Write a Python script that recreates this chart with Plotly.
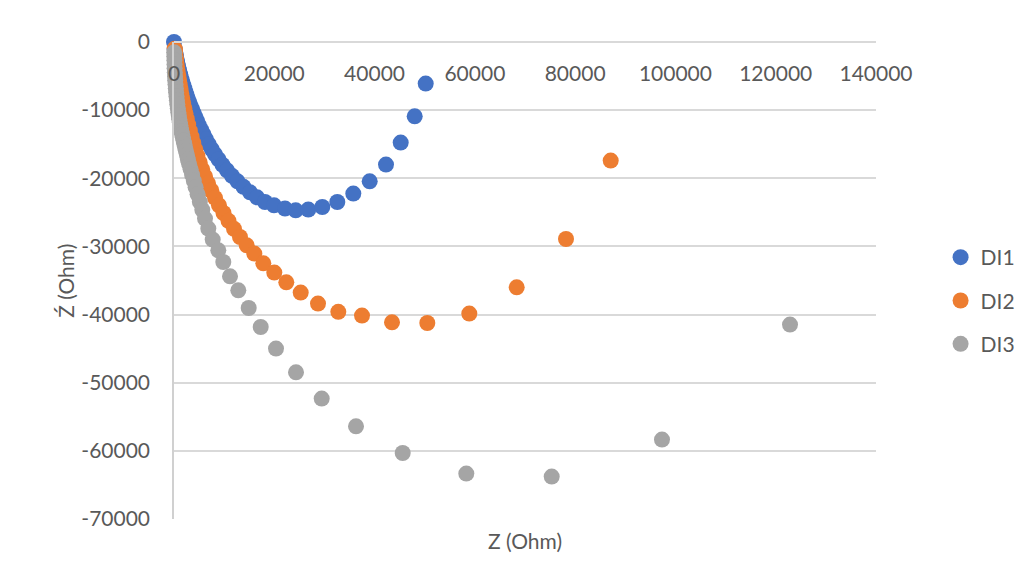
import plotly.graph_objects as go

# ---------------- data ----------------
di1_z = [0, 120, 160, 199, 239, 299, 359, 419, 499, 578, 658, 758, 857, 977, 1097, 1236, 1376,
         1535, 1695, 1874, 2074, 2273, 2493, 2732, 2991, 3270, 3569, 3888, 4227, 4586, 4985,
         5424, 5882, 6381, 6939, 7537, 8175, 8873, 9671, 10568, 11565, 12662, 13858, 15155,
         16550, 18145, 19943, 22137, 24271, 26783, 29575, 32567, 35758, 39028, 42279, 45211,
         48003, 50197]
di1_zi = [0, -998, -1174, -1365, -1570, -1790, -2025, -2275, -2539, -2818, -3111, -3419, -3742,
          -4080, -4432, -4799, -5180, -5577, -5987, -6413, -6853, -7308, -7778, -8262, -8776,
          -9289, -9832, -10390, -10977, -11564, -12224, -12885, -13545, -14279, -15013, -15746,
          -16480, -17214, -18021, -18828, -19635, -20442, -21250, -22056, -22790, -23480, -23964,
          -24449, -24698, -24595, -24214, -23480, -22247, -20442, -17992, -14763, -10903, -6105]

di2_z = [140, 179, 219, 279, 339, 399, 479, 558, 658, 758, 877, 997, 1137, 1296, 1456, 1635,
         1834, 2054, 2293, 2552, 2831, 3151, 3490, 3848, 4247, 4666, 5125, 5623, 6181, 6780,
         7438, 8175, 8973, 9870, 10867, 11964, 13160, 14499, 16014, 17809, 20003, 22396, 25268,
         28718, 32766, 37493, 43476, 50515, 58892, 68345, 78177, 87091]
di2_zi = [-983, -1262, -1570, -1908, -2275, -2671, -3096, -3551, -4036, -4549, -5092, -5665,
          -6266, -6897, -7558, -8247, -8966, -9715, -10493, -11300, -12136, -13002, -13897,
          -14807, -15746, -16700, -17683, -18681, -19709, -20736, -21792, -22864, -23964, -25094,
          -26239, -27413, -28616, -29834, -31052, -32476, -33841, -35264, -36776, -38390, -39593,
          -40151, -41134, -41237, -39857, -35998, -28910, -17405]

di3_z = [40, 60, 80, 100, 120, 160, 199, 239, 299, 359, 419, 499, 578, 658, 758, 857, 957,
         1057, 1157, 1256, 1376, 1496, 1615, 1755, 1894, 2054, 2213, 2393, 2592, 2772, 3031,
         3310, 3609, 3948, 4307, 4706, 5145, 5643, 6182, 6840, 7718, 8835, 9832, 11168, 12823,
         14897, 17290, 20342, 24330, 29456, 36296, 45610, 58293, 75325, 97320, 122850]
di3_zi = [-1512, -2099, -2686, -3273, -3860, -4447, -5034, -5620, -6208, -6794, -7381, -7969,
          -8555, -9143, -9730, -10317, -10830, -11344, -11784, -12224, -12665, -13105, -13545,
          -13985, -14455, -14954, -15482, -16040, -16627, -17258, -17947, -18681, -19488, -20369,
          -21323, -22350, -23451, -24625, -25916, -27384, -28998, -30568, -32285, -34384, -36438,
          -39036, -41824, -44994, -48472, -52331, -56396, -60314, -63337, -63780, -58350, -41470]

x_tick_vals = [0, 20000, 40000, 60000, 80000, 100000, 120000, 140000]
x_tick_text = ["0", "20000", "40000", "60000", "80000", "100000", "120000", "140000"]
y_tick_vals = [0, -10000, -20000, -30000, -40000, -50000, -60000, -70000]
y_tick_text = ["0", "-10000", "-20000", "-30000", "-40000", "-50000", "-60000", "-70000"]

series = [("DI1", di1_z, di1_zi, "#4472C4"),
          ("DI2", di2_z, di2_zi, "#ED7D31"),
          ("DI3", di3_z, di3_zi, "#A5A5A5")]

FONT = "Lato"
TXT = "#595959"

fig = go.Figure()
for name, xs, ys, col in series:
    fig.add_trace(go.Scatter(
        x=xs, y=ys, mode="markers", name=name, legendgroup=name,
        marker=dict(color=col, size=16, line=dict(width=0)),
        cliponaxis=False,
    ))

fig.update_layout(
    width=1019, height=579,
    margin=dict(l=174, r=143, t=42, b=60, autoexpand=False),
    paper_bgcolor="white", plot_bgcolor="white",
    font=dict(family=FONT, size=20, color=TXT),
    xaxis=dict(
        range=[0, 140000], tickvals=x_tick_vals, ticktext=x_tick_text,
        anchor="free", position=1, side="bottom", automargin=False,
        showgrid=False, zeroline=False,
        showline=True, linecolor="#d9d9d9", linewidth=1.5,
        ticks="outside", ticklen=13, tickcolor="rgba(0,0,0,0)",
        tickfont=dict(family=FONT, size=21, color=TXT),
    ),
    yaxis=dict(
        range=[-70000, 0], tickvals=y_tick_vals, ticktext=y_tick_text,
        showgrid=True, gridcolor="#d9d9d9", gridwidth=1.5, zeroline=False,
        showline=True, linecolor="#d0d0d0", linewidth=1.5, automargin=False,
        ticks="outside", ticklen=18, tickcolor="rgba(0,0,0,0)",
        tickfont=dict(family=FONT, size=21, color=TXT),
    ),
    legend=dict(
        x=1.092, xanchor="left", y=0.458, yanchor="middle",
        font=dict(family=FONT, size=21, color=TXT),
        tracegroupgap=13, traceorder="grouped",
        bgcolor="rgba(0,0,0,0)", itemwidth=30,
    ),
    showlegend=True,
    annotations=[
        dict(text="Z (Ohm)", xref="paper", yref="paper", x=0.5, y=-0.015,
             xanchor="center", yanchor="top", showarrow=False,
             font=dict(family=FONT, size=21, color=TXT)),
        dict(text="Ź (Ohm)", xref="paper", yref="paper", x=-0.155, y=0.5,
             xanchor="center", yanchor="middle", showarrow=False, textangle=-90,
             font=dict(family=FONT, size=21, color=TXT)),
    ],
)

fig.write_html("out.html", post_script="document.body.style.margin='0px';",
               config={"displayModeBar": False})
